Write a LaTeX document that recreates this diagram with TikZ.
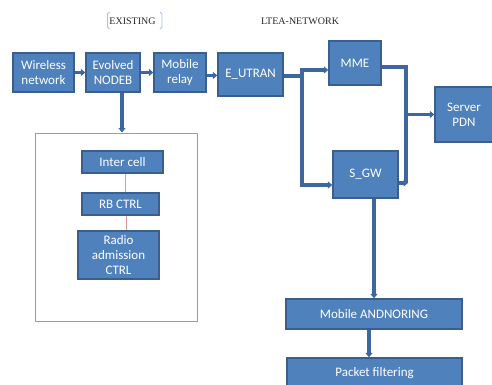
\documentclass[tikz,border=0pt]{standalone}
\usepackage{fontspec}
\setmainfont{Liberation Serif}
\newfontfamily\boxfont{Carlito}
\usetikzlibrary{arrows.meta}
\definecolor{boxfill}{HTML}{4F81BD}
\definecolor{boxedge}{HTML}{3A5F8E}
\definecolor{wirecol}{HTML}{3D679E}
\definecolor{linkred}{HTML}{E39494}
\definecolor{framegray}{HTML}{9C9C9C}
\definecolor{bracketblue}{HTML}{A7C1DF}

\begin{document}
\begin{tikzpicture}[x=1pt,y=-1pt,
  blk/.style={draw=boxedge, fill=boxfill, line width=1.3pt, text=white,
    font=\boxfont\fontsize{13}{15}\selectfont, align=center, inner sep=0pt},
  plainwire/.style={draw=wirecol, line width=3.2pt},
  wire/.style={plainwire, -{Triangle[length=4.5pt,width=7pt]}},
  redlink/.style={draw=linkred, line width=0.8pt},
  caption/.style={font=\fontsize{10}{12}\selectfont, text=black!85, inner sep=0pt}]
\useasboundingbox (0,0) rectangle (492,385);

% headings
\node[caption] (ex) at (132.5,21) {EXISTING};
\node[caption] (lte) at (300,21) {LTEA-NETWORK};
\draw[bracketblue, line width=0.8pt] (109.5,12) -- (107.5,14) -- (107.5,27) -- (109.5,29);
\draw[bracketblue, line width=0.8pt] (160,12) -- (162,14) -- (162,27) -- (160,29);

% top row
\node[blk, minimum width=61, minimum height=39] (wn) at (43.5,72.5) {Wireless\\network};
\node[blk, minimum width=54, minimum height=39] (ev) at (113,72.5) {Evolved\\NODEB};
\node[blk, minimum width=52, minimum height=39] (mr) at (180,72.5) {Mobile\\relay};
\node[blk, minimum width=65, minimum height=43] (eu) at (250.5,74.5) {E\_UTRAN};
\node[blk, minimum width=52, minimum height=44] (mme) at (355,63) {MME};
\node[blk, minimum width=58, minimum height=55] (pdn) at (464,114.5) {Server\\PDN};
\node[blk, minimum width=65, minimum height=47] (sgw) at (365.5,174.5) {S\_GW};
\node[blk, minimum width=176, minimum height=30] (mand) at (374,314) {Mobile ANDNORING};
\node[blk, minimum width=175, minimum height=30] (pf) at (374.5,373) {Packet filtering};

% framed group under the eNodeB
\node[draw=framegray, line width=1pt, minimum width=162, minimum height=188] (grp) at (116,227) {};
\node[blk, minimum width=81, minimum height=22] (ic) at (122.5,162) {Inter cell};
\node[blk, minimum width=77, minimum height=22] (rbc) at (120.5,204) {RB CTRL};
\node[blk, minimum width=81, minimum height=48] (rac) at (118.5,255) {Radio\\admission\\CTRL};
\draw[redlink] ([xshift=2.5pt]ic.south) -- ([xshift=2.5pt]ic.south |- rbc.north);
\draw[redlink] ([xshift=5.5pt]rbc.south) -- ([xshift=5.5pt]rbc.south |- rac.north);

% connectors
\draw[wire] (wn.east) -- (ev.west);
\draw[wire] (ev.east) -- (mr.west);
\draw[wire] ([yshift=-3pt]mr.east) -- ([yshift=-3pt]mr.east -| eu.west);
\draw[wire] ([xshift=9pt]ev.south) -- ([xshift=9pt]ev.south |- grp.north);

\coordinate (jt) at (302,70);
\coordinate (jb) at (302,185);
\draw[plainwire] ([yshift=-1.5pt]eu.east) -- ([yshift=-1.5pt]eu.east -| jt);
\draw[wire] (jb) -- (jt) -- (jt -| mme.west);
\draw[wire] (jt) -- (jb) -- (jb -| sgw.west);

\coordinate (rt) at (406,67);
\coordinate (rb) at (406,183);
\draw[plainwire] (mme.east |- rt) -- (rt) -- (rb);
\draw[wire] (sgw.east |- rb) -- ([xshift=2pt]rb);
\draw[wire] (rt |- pdn.west) -- (pdn.west);

\draw[wire] (sgw.south -| mand.north) -- (mand.north);
\draw[wire] ([xshift=-5pt]mand.south) -- ([xshift=-5pt]mand.south |- pf.north);
\end{tikzpicture}
\end{document}
